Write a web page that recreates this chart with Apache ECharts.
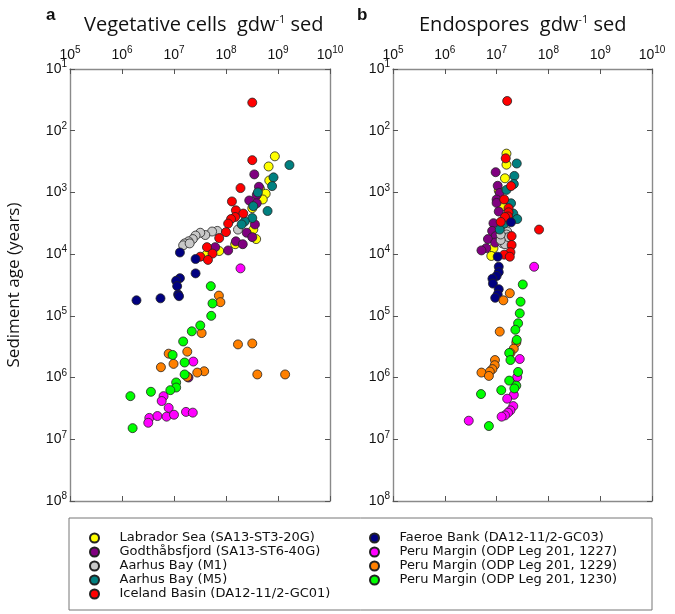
<!DOCTYPE html>
<html>
<head>
<meta charset="utf-8">
<script src="https://cdn.jsdelivr.net/npm/echarts@6/dist/echarts.min.js"></script>
<style>
html, body { margin: 0; padding: 0; background: #fff; }
#chart { width: 675px; height: 614px; }
</style>
</head>
<body>
<div id="chart"></div>
<script>
// site names (legend order = drawing order)
var siteNames = [
	'Labrador Sea (SA13-ST3-20G)',
	'Godthåbsfjord (SA13-ST6-40G)',
	'Aarhus Bay (M1)',
	'Aarhus Bay (M5)',
	'Iceland Basin (DA12-11/2-GC01)',
	'Faeroe Bank (DA12-11/2-GC03)',
	'Peru Margin (ODP Leg 201, 1227)',
	'Peru Margin (ODP Leg 201, 1229)',
	'Peru Margin (ODP Leg 201, 1230)'
];
var siteColors = ['#ffff00', '#800080', '#c8c8c8', '#008080', '#ff0000', '#000080', '#ff00ff', '#ff8000', '#00ff00'];

// panel a : vegetative cells per gdw sed vs sediment age (years)
var vegLabrador = [[8.7e8,260],[6.6e8,380],[6.8e8,640],[4.5e8,870],[5.8e8,1050],[5.1e8,1300],[3.2e8,1800],[3.35e8,4000],[3.8e8,5700],[1.5e8,6900],[7.4e7,8900],[4.3e7,10000]];
var vegGodthaab = [[3.5e8,510],[4.3e8,810],[3.9e8,1100],[2.8e8,1350],[3.9e8,1500],[3.6e8,3300],[2.5e8,4500],[3.2e8,5300],[1.55e8,6200],[2.1e8,6900],[1.1e8,8700],[6.2e7,7700],[1.9e7,1.0e6]];
var vegAarhusM1 = [[1.7e8,4000],[6.8e7,4200],[5.4e7,4300],[4.0e7,4900],[3.2e7,4500],[2.6e7,5000],[2.3e7,5700],[1.9e7,6200],[1.6e7,6700],[1.5e7,7200],[2.0e7,6700]];
var vegAarhusM5 = [[1.66e9,360],[8.2e8,570],[7.7e8,790],[4.1e8,1000],[3.35e8,1670],[6.3e8,2000],[3.2e8,2600],[2.3e8,2950],[2.0e8,3300]];
var vegIceland = [[3.2e8,35],[3.2e8,300],[1.9e8,850],[1.3e8,1400],[1.55e8,1950],[2.15e8,2200],[1.5e8,2500],[1.25e8,2700],[1.1e8,3200],[1.0e8,4400],[7.4e7,5500],[4.3e7,7700],[5.5e7,9800],[3.2e7,11000],[4.5e7,12400]];
var vegFaeroe = [[1.3e7,9400],[2.6e7,12000],[2.6e7,20500],[1.3e7,24500],[1.1e7,27000],[1.15e7,33000],[1.2e7,45000],[1.25e7,48000],[5.5e6,52000],[1.9e6,56000]];
var vegPeru1227 = [[1.9e8,17000],[2.35e7,5.5e5],[6.3e6,2.0e6],[5.8e6,2.4e6],[7.9e6,3.1e6],[3.35e6,4.5e6],[4.8e6,4.2e6],[7.2e6,4.3e6],[1.0e7,4.0e6],[1.7e7,3.6e6],[2.3e7,3.7e6],[3.2e6,5.4e6]];
var vegPeru1229 = [[7.3e7,47000],[7.8e7,60000],[3.4e7,1.9e5],[1.7e8,2.9e5],[3.2e8,2.8e5],[7.9e6,4.1e5],[1.8e7,3.8e5],[9.8e6,6.0e5],[5.6e6,6.8e5],[3.8e7,7.9e5],[2.8e7,8.3e5],[1.8e7,9.7e5],[4.0e8,8.9e5],[1.37e9,8.9e5]];
var vegPeru1230 = [[5.1e7,33000],[5.5e7,63000],[5.2e7,1.0e5],[3.2e7,1.43e5],[2.2e7,1.78e5],[1.5e7,2.6e5],[9.4e6,4.3e5],[1.6e7,5.7e5],[1.6e7,8.9e5],[1.1e7,1.2e6],[1.1e7,1.45e6],[8.5e6,1.6e6],[3.6e6,1.7e6],[1.45e6,2.0e6],[1.6e6,6.6e6]];

// panel b : endospores per gdw sed vs sediment age (years)
var spoLabrador = [[1.55e7,235],[1.55e7,355],[1.45e7,590],[1.1e7,930],[1.3e7,1670],[1.45e7,2760],[8.7e6,8000],[7.9e6,10700]];
var spoGodthaab = [[9.6e6,470],[1.05e7,780],[1.15e7,1020],[1.0e7,1300],[1.0e7,1480],[1.1e7,2040],[8.7e6,3150],[8.2e6,4200],[9.6e6,5100],[6.8e6,5700],[9.4e6,6500],[6.3e6,8000],[5.1e6,8700]];
var spoAarhusM1 = [[1.6e7,4300],[1.55e7,4800],[1.4e7,5500],[1.3e7,6200],[1.6e7,5900],[1.3e7,6700],[1.45e7,6900],[1.7e7,5300],[1.2e7,5900],[1.2e7,4800]];
var spoAarhusM5 = [[2.45e7,340],[2.2e7,540],[2.15e7,730],[1.55e7,910],[1.9e7,1500],[2.1e7,2200],[2.5e7,2700],[1.4e7,3200],[1.15e7,4000]];
var spoIceland = [[1.6e7,33],[1.5e7,280],[1.9e7,790],[1.4e7,1300],[1.7e7,1800],[1.7e7,2100],[1.66e7,2450],[1.45e7,2500],[1.2e7,3000],[6.6e7,4000],[1.95e7,5100],[1.95e7,7100],[1.85e7,9300],[1.4e7,10200],[1.8e7,11000]];
var spoFaeroe = [[1.9e7,3050],[1.05e7,11000],[1.1e7,16000],[1.1e7,19600],[1.0e7,22600],[8.3e6,25000],[8.5e6,30000],[1.1e7,37000],[1.05e7,45000],[9.4e6,51000]];
var spoPeru1227 = [[5.3e7,16000],[2.8e7,5.0e5],[2.5e7,9.8e5],[2.15e7,1.9e6],[1.6e7,2.2e6],[2.1e7,2.9e6],[1.85e7,3.4e6],[1.66e7,3.7e6],[1.45e7,4.1e6],[1.25e7,4.3e6],[2.9e6,5.0e6]];
var spoPeru1229 = [[1.8e7,43000],[1.35e7,56000],[1.15e7,1.8e5],[2.4e7,2.7e5],[2.15e7,3.4e5],[1.85e7,4.0e5],[9.3e6,5.2e5],[9.2e6,6.3e5],[8.3e6,7.3e5],[7.4e6,8.0e5],[5.1e6,8.3e5],[7.1e6,9.4e5]];
var spoPeru1230 = [[3.2e7,31000],[2.9e7,59000],[2.8e7,91000],[2.6e7,1.32e5],[2.3e7,1.68e5],[2.45e7,2.45e5],[1.75e7,4.0e5],[1.85e7,5.2e5],[2.6e7,8.1e5],[1.75e7,1.12e6],[2.4e7,1.35e6],[2.2e7,1.5e6],[1.23e7,1.6e6],[5.0e6,1.85e6],[7.1e6,6.1e6]];

var vegSets = [vegLabrador, vegGodthaab, vegAarhusM1, vegAarhusM5, vegIceland, vegFaeroe, vegPeru1227, vegPeru1229, vegPeru1230];
var spoSets = [spoLabrador, spoGodthaab, spoAarhusM1, spoAarhusM5, spoIceland, spoFaeroe, spoPeru1227, spoPeru1229, spoPeru1230];

var frameColor = '#8a8a8a';
var tickFont = 'Liberation Sans, Arial, sans-serif';
var textFont = '"Open Sans", "Noto Sans", sans-serif';

function powLabel(v){
	var e = Math.round(Math.log(v) / Math.LN10);
	return '{b|10}{s|' + e + '}';
}
var powRich = {
	b: { fontSize: 14, fontFamily: tickFont, color: '#111', lineHeight: 16 },
	s: { fontSize: 10, fontFamily: tickFont, color: '#111', lineHeight: 16, padding: [0, 0, 9, 0] }
};
var titleRich = {
	n: { fontSize: 20, fontWeight: 'normal', fontFamily: textFont, color: '#111', lineHeight: 22 },
	s: { fontSize: 11, fontWeight: 'normal', fontFamily: textFont, color: '#111', lineHeight: 22, padding: [0, 0, 10, 0] }
};

function makeX(gridIndex, pos, showLabel){
	return {
		type: 'log', logBase: 10, min: 1e5, max: 1e10, gridIndex: gridIndex, position: pos,
		axisLine: { show: true, onZero: false, lineStyle: { color: frameColor, width: 1.4 } },
		axisTick: { show: true, inside: true, length: 5, lineStyle: { color: '#555', width: 1 } },
		minorTick: { show: false },
		splitLine: { show: false },
		axisLabel: { show: showLabel, margin: 6, formatter: powLabel, rich: powRich }
	};
}
function makeY(gridIndex, pos, showLabel){
	return {
		type: 'log', logBase: 10, min: 10, max: 1e8, inverse: true, gridIndex: gridIndex, position: pos,
		axisLine: { show: true, onZero: false, lineStyle: { color: frameColor, width: 1.4 } },
		axisTick: { show: true, inside: true, length: 5, lineStyle: { color: '#555', width: 1 } },
		minorTick: { show: false },
		splitLine: { show: false },
		axisLabel: { show: showLabel, margin: 3, formatter: powLabel, rich: powRich }
	};
}

var xAxes = [makeX(0, 'top', true), makeX(0, 'bottom', false), makeX(1, 'top', true), makeX(1, 'bottom', false)];
var yAxes = [makeY(0, 'left', true), makeY(0, 'right', false), makeY(1, 'left', true), makeY(1, 'right', false)];
yAxes[0].name = 'Sediment age (years)';
yAxes[0].nameLocation = 'middle';
yAxes[0].nameRotate = 90;
yAxes[0].nameGap = 47;
yAxes[0].nameTextStyle = { fontSize: 17, fontFamily: textFont, color: '#111' };

var series = [];
function addSeries(sets, axisIndex){
	for(var i = 0; i < sets.length; i++){
		series.push({
			name: siteNames[i],
			type: 'scatter',
			xAxisIndex: axisIndex,
			yAxisIndex: axisIndex,
			symbol: 'circle',
			symbolSize: 9,
			itemStyle: { color: siteColors[i], borderColor: '#222', borderWidth: 0.8, opacity: 1 },
			emphasis: { disabled: true },
			data: sets[i]
		});
	}
}
addSeries(vegSets, 0);
addSeries(spoSets, 2);

function makeLegend(left, names){
	return {
		orient: 'vertical',
		left: left,
		top: 531,
		padding: 0,
		itemWidth: 40,
		itemHeight: 9,
		itemGap: 0,
		selectedMode: false,
		data: names,
		textStyle: { fontSize: 13, lineHeight: 14, fontFamily: 'DejaVu Sans, sans-serif', color: '#111' }
	};
}

var option = {
	animation: false,
	backgroundColor: '#fff',
	title: [
		{ text: 'a', left: 41, top: 2, textStyle: { fontSize: 17, fontWeight: 'bold', fontFamily: 'Liberation Sans, Arial', color: '#111' } },
		{ text: 'b', left: 352, top: 2, textStyle: { fontSize: 17, fontWeight: 'bold', fontFamily: 'Liberation Sans, Arial', color: '#111' } },
		{ text: '{n|Vegetative cells  gdw}{s|-1}{n| sed}', left: 79, top: 9, textStyle: { rich: titleRich } },
		{ text: '{n|Endospores  gdw}{s|-1}{n| sed}', left: 414, top: 9, textStyle: { rich: titleRich } }
	],
	grid: [
		{ left: 70, top: 69, width: 260, height: 432 },
		{ left: 393, top: 69, width: 259, height: 432 }
	],
	xAxis: xAxes,
	yAxis: yAxes,
	legend: [
		makeLegend(89, siteNames.slice(0, 5)),
		makeLegend(369, siteNames.slice(5))
	],
	graphic: [
		{ type: 'rect', shape: { x: 69, y: 518, width: 583, height: 92 }, style: { fill: 'none', stroke: '#777', lineWidth: 1 }, silent: true }
	],
	series: series
};

var chart = echarts.init(document.getElementById('chart'), null, { renderer: 'canvas' });
chart.setOption(option);
</script>
</body>
</html>
